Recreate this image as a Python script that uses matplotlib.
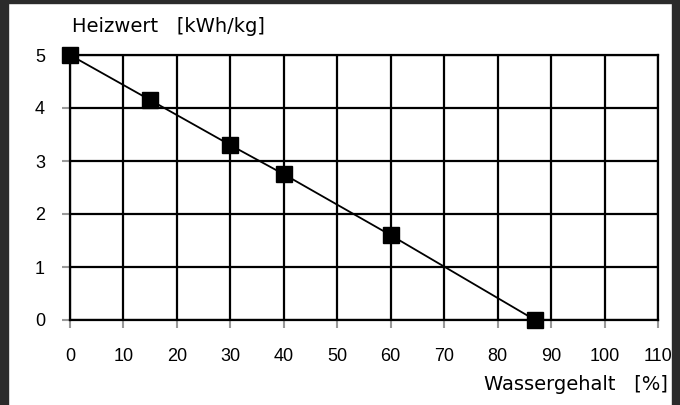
import matplotlib
matplotlib.use("Agg")
import matplotlib.pyplot as plt
from matplotlib.patches import Rectangle

# Wassergehalt [%] vs Heizwert [kWh/kg]
wassergehalt = [0, 15, 30, 40, 60, 87]
heizwert = [5.0, 4.15, 3.3, 2.75, 1.6, 0.0]
x_ticks = [0, 10, 20, 30, 40, 50, 60, 70, 80, 90, 100, 110]
y_ticks = [0, 1, 2, 3, 4, 5]

plt.rcParams['font.family'] = ['Liberation Sans', 'DejaVu Sans']

fig = plt.figure(figsize=(6.8, 4.05), dpi=100)
fig.patch.set_facecolor("white")

# dark frame around the picture
fig.patches.append(Rectangle((0, 0), 8 / 680, 1, transform=fig.transFigure, color="#2b2b2b", zorder=0))
fig.patches.append(Rectangle((0, 1 - 3 / 405), 1, 3 / 405, transform=fig.transFigure, color="#2b2b2b", zorder=0))
fig.patches.append(Rectangle((672 / 680, 0), 8 / 680, 1, transform=fig.transFigure, color="#2b2b2b", zorder=0))

ax = fig.add_axes([70 / 680, 1 - 320 / 405, 588 / 680, 265 / 405])
ax.set_xlim(0, 110)
ax.set_ylim(0, 5)
ax.set_xticks(x_ticks)
ax.set_yticks(y_ticks)
ax.grid(True, color="black", linewidth=1.6)
ax.set_axisbelow(True)
for s in ax.spines.values():
    s.set_linewidth(1.6)
    s.set_color("black")

ax.tick_params(direction="out", length=6, width=1.5, color="#999999",
               labelsize=13, pad=14)
ax.tick_params(axis="y", pad=12)

ax.plot(wassergehalt, heizwert, color="black", linewidth=1.3,
        marker="s", markersize=11, markerfacecolor="black",
        markeredgecolor="black", clip_on=False, zorder=5)

fig.text(72 / 680, 1 - 27 / 405, "Heizwert   [kWh/kg]", fontsize=14,
         family="DejaVu Sans", ha="left", va="center")
fig.text(668 / 680, 1 - 384 / 405, "Wassergehalt   [%]", fontsize=14,
         family="DejaVu Sans", ha="right", va="center")

fig.savefig("out.png", dpi=100)
